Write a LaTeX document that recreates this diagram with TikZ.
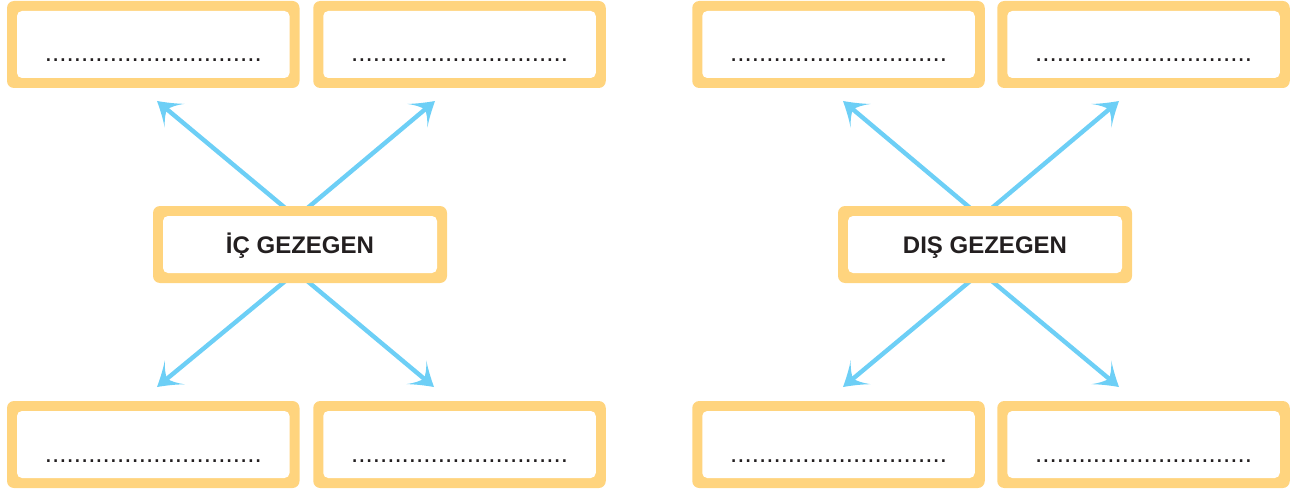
\documentclass[tikz,border=0pt]{standalone}
\usepackage{fontspec}
\setmainfont{Liberation Sans}
\usetikzlibrary{arrows.meta}
\definecolor{boxorange}{HTML}{FFD47E}
\definecolor{arrowblue}{HTML}{6DCFF6}
\definecolor{textdark}{HTML}{231F20}
\makeatletter
\pgfdeclarearrow{
  name = Swept,
  parameters = {\the\pgfarrowlength,\the\pgfarrowwidth},
  setup code = {
    \pgfarrowssettipend{0pt}
    \pgfarrowssetbackend{-\pgfarrowlength}
    \pgfarrowssetlineend{-0.5\pgfarrowlength}
    \pgfarrowsupperhullpoint{-\pgfarrowlength}{0.5\pgfarrowwidth}
    \pgfarrowshullpoint{0pt}{0pt}
    \pgfarrowssavethe\pgfarrowlength
    \pgfarrowssavethe\pgfarrowwidth
  },
  drawing code = {
    \pgfpathmoveto{\pgfqpoint{0pt}{0pt}}
    \pgfpathcurveto{\pgfqpoint{-0.35\pgfarrowlength}{0.15\pgfarrowwidth}}{\pgfqpoint{-0.7\pgfarrowlength}{0.32\pgfarrowwidth}}{\pgfqpoint{-\pgfarrowlength}{0.5\pgfarrowwidth}}
    \pgfpathcurveto{\pgfqpoint{-0.78\pgfarrowlength}{0.32\pgfarrowwidth}}{\pgfqpoint{-0.6\pgfarrowlength}{0.12\pgfarrowwidth}}{\pgfqpoint{-0.58\pgfarrowlength}{0pt}}
    \pgfpathcurveto{\pgfqpoint{-0.6\pgfarrowlength}{-0.12\pgfarrowwidth}}{\pgfqpoint{-0.78\pgfarrowlength}{-0.32\pgfarrowwidth}}{\pgfqpoint{-\pgfarrowlength}{-0.5\pgfarrowwidth}}
    \pgfpathcurveto{\pgfqpoint{-0.7\pgfarrowlength}{-0.32\pgfarrowwidth}}{\pgfqpoint{-0.35\pgfarrowlength}{-0.15\pgfarrowwidth}}{\pgfqpoint{0pt}{0pt}}
    \pgfpathclose
    \pgfusepathqfill
  },
  defaults = {length = 22pt, width = 30pt}
}
\makeatother
\tikzset{
  framebox/.style={
    fill=boxorange, rounded corners=7pt, inner sep=0pt,
    minimum width=292.5pt, minimum height=87pt,
    path picture={
      \fill[white, rounded corners=5pt]
        ([shift={(10pt,-10pt)}]path picture bounding box.north west) rectangle
        ([shift={(-10pt,10pt)}]path picture bounding box.south east);
    }
  },
  centerbox/.style={framebox, minimum width=294pt, minimum height=77pt,
    font=\fontsize{24pt}{28pt}\selectfont\bfseries, text=textdark,
    text height=17pt, text depth=0pt},
  blank/.style={anchor=base, inner sep=0pt, text=textdark,
    font=\fontsize{26pt}{30pt}\selectfont},
  conn/.style={draw=arrowblue, line width=4.4pt,
    -{Swept[length=23pt, width=31pt]}}
}
\newcommand{\dotline}{..............................}
\begin{document}
\begin{tikzpicture}[x=1pt, y=-1pt]
\useasboundingbox (0,0) rectangle (1290,492);

% start points (hidden behind the centre boxes) and tips
\coordinate (lTLs) at (323.6,240); \coordinate (lTLe) at (157,101);
\coordinate (lTRs) at (269.4,240); \coordinate (lTRe) at (435,101);
\coordinate (lBLs) at (322.8,250); \coordinate (lBLe) at (157,387);
\coordinate (lBRs) at (270.2,250); \coordinate (lBRe) at (434,387);

\coordinate (rTLs) at (1008.2,240); \coordinate (rTLe) at (843,101);
\coordinate (rTRs) at (953.8,240);  \coordinate (rTRe) at (1119,101);
\coordinate (rBLs) at (1007.4,250); \coordinate (rBLe) at (843,387);
\coordinate (rBRs) at (954.6,250);  \coordinate (rBRe) at (1119,387);

\draw[conn] (lTLs) -- (lTLe);
\draw[conn] (lTRs) -- (lTRe);
\draw[conn] (lBLs) -- (lBLe);
\draw[conn] (lBRs) -- (lBRe);
\draw[conn] (rTLs) -- (rTLe);
\draw[conn] (rTRs) -- (rTRe);
\draw[conn] (rBLs) -- (rBLe);
\draw[conn] (rBRs) -- (rBRe);

% centre boxes
\node[centerbox] (ic) at (300,244.5) {İÇ GEZEGEN};
\node[centerbox] (dis) at (985,244.5) {DIŞ GEZEGEN};

% answer boxes
\node[framebox] (bA) at (153.25,44.5) {};
\node[framebox] (bB) at (459.5,44.5) {};
\node[framebox] (bC) at (838.5,44.5) {};
\node[framebox] (bD) at (1143.5,44.5) {};
\node[framebox] (bE) at (153.25,444.5) {};
\node[framebox] (bF) at (459.5,444.5) {};
\node[framebox] (bG) at (838.5,444.5) {};
\node[framebox] (bH) at (1143.5,444.5) {};

\node[blank] (tA) at (153.25,61.5) {\dotline};
\node[blank] (tB) at (459.5,61.5) {\dotline};
\node[blank] (tC) at (838.5,61.5) {\dotline};
\node[blank] (tD) at (1143.5,61.5) {\dotline};
\node[blank] (tE) at (153.25,462) {\dotline};
\node[blank] (tF) at (459.5,462) {\dotline};
\node[blank] (tG) at (838.5,462) {\dotline};
\node[blank] (tH) at (1143.5,462) {\dotline};
\end{tikzpicture}
\end{document}
